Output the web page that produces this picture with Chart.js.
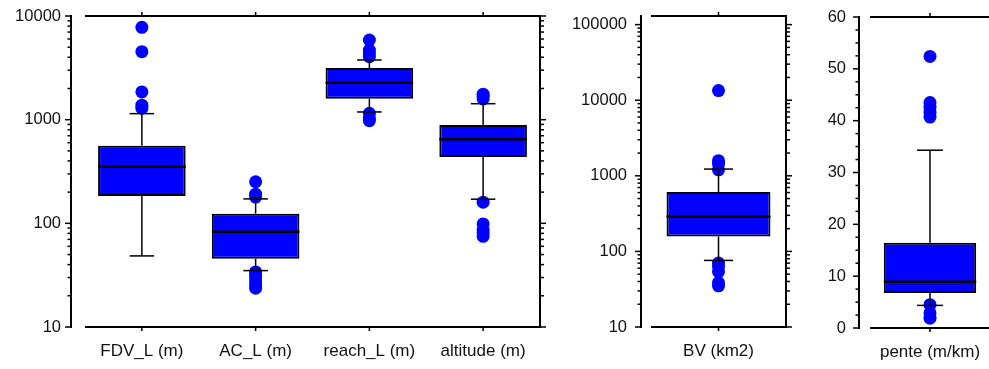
<!DOCTYPE html>
<html>
<head>
<meta charset="utf-8">
<script src="https://cdn.jsdelivr.net/npm/chart.js@4"></script>
<style>
  html, body { margin: 0; padding: 0; background: #fff; overflow: hidden; }
  #wrap { position: relative; width: 989px; height: 369px; overflow: hidden; }
  #wrap canvas { position: absolute; top: 0; }
</style>
</head>
<body>
<div id="wrap">
  <canvas id="c-long" width="560" height="369" style="left:0"></canvas>
  <canvas id="c-bv" width="240" height="369" style="left:560px"></canvas>
  <canvas id="c-pente" width="200" height="369" style="left:800px"></canvas>
</div>
<script>
/* Boîtes à moustaches — longueurs, BV, pente */

// Longueurs et altitude (échelle log)
const labelsLong = ['FDV_L (m)', 'AC_L (m)', 'reach_L (m)', 'altitude (m)'];
const q1Long    = [184, 45.5, 1590, 437];
const medLong   = [352, 83, 2275, 647];
const q3Long    = [561, 124, 3150, 889];
const basLong   = [48.5, 35, 1187, 171];
const hautLong  = [1143, 172, 3765, 1426];
const horsLong  = [
  [1290, 1380, 1850, 4530, 7780],
  [23.7, 25.5, 27.4, 30, 32, 34, 179, 191, 252],
  [977, 1031, 1150, 4050, 4370, 4700, 5870],
  [75, 81, 86, 98.6, 160, 1585, 1680, 1760]
];
const ticksLong = [10, 100, 1000, 10000];

// Bassin versant (échelle log)
const labelsBV = ['BV (km2)'];
const q1BV   = [158];
const medBV  = [290];
const q3BV   = [612];
const basBV  = [76];
const hautBV = [1228];
const horsBV = [[35, 38.6, 54, 63, 70, 1200, 1430, 1585, 13400]];
const ticksBV = [10, 100, 1000, 10000, 100000];

// Pente (échelle linéaire)
const labelsPente = ['pente (m/km)'];
const q1Pente   = [6.75];
const medPente  = [8.93];
const q3Pente   = [16.46];
const basPente  = [4.36];
const hautPente = [34.3];
const horsPente = [[1.9, 2.9, 4.5, 40.7, 41.6, 42.6, 43.5, 52.4]];
const ticksPente = [0, 10, 20, 30, 40, 50, 60];
const pasMineurPente = 2.5;

const BLEU = '#0000ff';
const NOIR = '#000';
const TEXTE = '#111';
const POLICE = '"Liberation Sans", Arial, sans-serif';

// graduations mineures log : 2..9 x chaque décade
function mineursLog(majeurs, max) {
  const out = [];
  majeurs.forEach(d => { for (let k = 2; k <= 9; k++) if (k * d <= max) out.push(k * d); });
  return out;
}
function mineursLin(majeurs, pas) {
  const out = [];
  for (let v = majeurs[0]; v <= majeurs[majeurs.length - 1]; v += pas) {
    if (!majeurs.includes(v)) out.push(v);
  }
  return out;
}

// cadre : axe gauche décalé, axe droit, lignes haut/bas avec graduations
const cadre = {
  id: 'cadre',
  afterDraw(chart, args, o) {
    const { ctx, chartArea: a, scales: { x, y } } = chart;
    const seg = (x1, y1, x2, y2) => { ctx.beginPath(); ctx.moveTo(x1, y1); ctx.lineTo(x2, y2); ctx.stroke(); };
    ctx.save();
    ctx.strokeStyle = NOIR;
    const axeG = a.left - o.ecart;

    ctx.lineWidth = 2;
    seg(axeG, y.top - 1, axeG, y.bottom + 1);
    seg(a.left, a.top, a.right, a.top);
    seg(a.left, a.bottom, a.right, a.bottom);
    if (o.droite) seg(a.right, a.top - 1, a.right, a.bottom + 1);

    ctx.lineWidth = 1.5;
    o.majeurs.forEach(v => {
      const p = y.getPixelForValue(v);
      seg(axeG - 6, p, axeG, p);
      if (o.droite) seg(a.right, p, a.right + 6, p);
    });
    o.mineurs.forEach(v => {
      const p = y.getPixelForValue(v);
      seg(axeG - 3.5, p, axeG, p);
      if (o.droite) seg(a.right, p, a.right + 4, p);
    });
    chart.data.labels.forEach((l, i) => {
      const px = x.getPixelForValue(i);
      seg(px, a.top, px, a.top - 4);
      seg(px, a.bottom, px, a.bottom + 4);
    });
    ctx.restore();
  }
};

// moustaches + médiane, tracées par-dessus
const moustaches = {
  id: 'moustaches',
  afterDatasetsDraw(chart, args, o) {
    const { ctx, scales: { x, y } } = chart;
    const meta = chart.getDatasetMeta(1);
    const seg = (x1, y1, x2, y2) => { ctx.beginPath(); ctx.moveTo(x1, y1); ctx.lineTo(x2, y2); ctx.stroke(); };
    ctx.save();
    ctx.strokeStyle = NOIR;
    o.med.forEach((m, i) => {
      const xc = x.getPixelForValue(i);
      const w = meta.data[i].width;
      const cap = w * 0.14;
      ctx.lineWidth = 1.5;
      seg(xc, y.getPixelForValue(o.haut[i]), xc, y.getPixelForValue(o.q3[i]));
      seg(xc, y.getPixelForValue(o.q1[i]), xc, y.getPixelForValue(o.bas[i]));
      seg(xc - cap, y.getPixelForValue(o.haut[i]), xc + cap, y.getPixelForValue(o.haut[i]));
      seg(xc - cap, y.getPixelForValue(o.bas[i]), xc + cap, y.getPixelForValue(o.bas[i]));
      ctx.lineWidth = 2.5;
      const pm = y.getPixelForValue(m);
      seg(xc - w / 2, pm, xc + w / 2, pm);
    });
    ctx.restore();
  }
};

function boite(id, p) {
  const points = p.hors.flatMap((vals, i) => vals.map(v => ({ x: p.labels[i], y: v })));
  const yScale = {
    type: p.log ? 'logarithmic' : 'linear',
    min: p.min,
    max: p.max,
    afterBuildTicks: s => { s.ticks = p.ticks.map(v => ({ value: v })); },
    afterFit: s => { s.width = p.largeurY; s.paddingTop = 0; s.paddingBottom = 0; },
    grid: { display: false, drawTicks: false },
    border: { display: false },
    ticks: {
      padding: 24,
      color: TEXTE,
      font: { family: POLICE, size: 16.5 },
      callback: v => String(v)
    }
  };
  new Chart(document.getElementById(id), {
    type: 'bar',
    data: {
      labels: p.labels,
      datasets: [
        {
          type: 'line',
          data: points,
          showLine: false,
          pointRadius: 6.5,
          pointHoverRadius: 6.5,
          pointBackgroundColor: BLEU,
          pointBorderWidth: 0,
          borderColor: BLEU
        },
        {
          data: p.q1.map((v, i) => [v, p.q3[i]]),
          backgroundColor: BLEU,
          borderColor: NOIR,
          borderWidth: 2,
          borderSkipped: false,
          barPercentage: 0.77,
          categoryPercentage: 1
        }
      ]
    },
    options: {
      responsive: false,
      animation: false,
      devicePixelRatio: 1,
      layout: { padding: { left: 0, right: p.droitePad, top: p.haut, bottom: 0 } },
      plugins: {
        legend: { display: false },
        tooltip: { enabled: false },
        cadre: { ecart: p.ecart, droite: p.droite, majeurs: p.ticks, mineurs: p.mineurs },
        moustaches: { med: p.med, q1: p.q1, q3: p.q3, bas: p.bas, haut: p.hautM }
      },
      scales: {
        x: {
          afterFit: s => { s.height = p.hauteurX; s.paddingLeft = 0; s.paddingRight = 0; },
          grid: { display: false, drawTicks: false },
          border: { display: false },
          ticks: { padding: 14, color: TEXTE, font: { family: POLICE, size: 17 } }
        },
        y: yScale
      }
    },
    plugins: [cadre, moustaches]
  });
}

boite('c-long', {
  labels: labelsLong, q1: q1Long, med: medLong, q3: q3Long, bas: basLong, hautM: hautLong, hors: horsLong,
  log: true, min: 10, max: 10000, ticks: ticksLong, mineurs: mineursLog(ticksLong, 10000),
  largeurY: 85, droitePad: 20, haut: 16, hauteurX: 42, ecart: 14, droite: true
});

boite('c-bv', {
  labels: labelsBV, q1: q1BV, med: medBV, q3: q3BV, bas: basBV, hautM: hautBV, hors: horsBV,
  log: true, min: 10, max: 130000, ticks: ticksBV, mineurs: mineursLog(ticksBV, 130000),
  largeurY: 91, droitePad: 14, haut: 16, hauteurX: 42, ecart: 10, droite: true
});

boite('c-pente', {
  labels: labelsPente, q1: q1Pente, med: medPente, q3: q3Pente, bas: basPente, hautM: hautPente, hors: horsPente,
  log: false, min: 0, max: 60, ticks: ticksPente, mineurs: mineursLin(ticksPente, pasMineurPente),
  largeurY: 70, droitePad: 10, haut: 17, hauteurX: 41, ecart: 11, droite: false
});
</script>
</body>
</html>
